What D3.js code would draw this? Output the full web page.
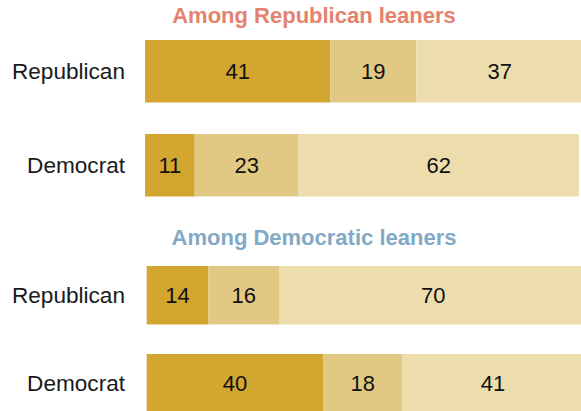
<!DOCTYPE html>
<html>
<head>
<meta charset="utf-8">
<script src="https://cdn.jsdelivr.net/npm/d3@7"></script>
<style>
  html, body { margin: 0; padding: 0; background: #fff; }
  svg { display: block; }
</style>
</head>
<body>
<svg id="chart" width="581" height="411"></svg>
<script>
// Response categories, left to right
const categories = ["first", "second", "third"];
const categoryColors = ["#D2A62F", "#E2C983", "#EDDDAD"];

// Party rows shown inside each group
const rows = ["Republican", "Democrat"];

// Group titles
const groupTitles = ["Among Republican leaners", "Among Democratic leaners"];
const titleColors = ["#E5826E", "#82A9C5"];

// Shares (%) for each row, by group
const republicanLeaners = [
  [41, 19, 37],   // Republican
  [11, 23, 62]    // Democrat
];
const democraticLeaners = [
  [14, 16, 70],   // Republican
  [40, 18, 41]    // Democrat
];

const svg = d3.select("#chart");
const font = "'Liberation Sans', Arial, sans-serif";

const panels = [
  { title: groupTitles[0], color: titleColors[0], data: republicanLeaners,
    titleY: 23, x0: 145, pxPerUnit: 4.52, y0: 40, step: 94, bar: 62.5 },
  { title: groupTitles[1], color: titleColors[1], data: democraticLeaners,
    titleY: 245, x0: 146.7, pxPerUnit: 4.41, y0: 266, step: 88, bar: 58.5 }
];

panels.forEach(p => {
  const x = d3.scaleLinear().domain([0, 100]).range([p.x0, p.x0 + 100 * p.pxPerUnit]);
  const y = d3.scaleBand()
    .domain(rows)
    .range([p.y0, p.y0 + p.step + p.bar])
    .paddingInner((p.step - p.bar) / p.step)
    .paddingOuter(0);

  const g = svg.append("g");

  g.append("text")
    .attr("x", 314)
    .attr("y", p.titleY)
    .attr("text-anchor", "middle")
    .attr("font-family", font)
    .attr("font-weight", "bold")
    .attr("font-size", 22)
    .attr("fill", p.color)
    .text(p.title);

  rows.forEach((row, ri) => {
    const vals = p.data[ri];
    let cum = 0;
    const segs = vals.map((v, i) => {
      const s = { v, i, start: cum, end: cum + v };
      cum += v;
      return s;
    });

    const rg = g.append("g");

    rg.append("text")
      .attr("x", 125)
      .attr("y", y(row) + y.bandwidth() / 2)
      .attr("dy", "0.36em")
      .attr("text-anchor", "end")
      .attr("font-family", font)
      .attr("font-size", 22.6)
      .attr("fill", "#1a1a1a")
      .text(row);

    rg.selectAll("rect")
      .data(segs)
      .join("rect")
      .attr("x", d => x(d.start))
      .attr("y", y(row))
      .attr("width", d => x(d.end) - x(d.start))
      .attr("height", y.bandwidth())
      .attr("fill", d => categoryColors[d.i]);

    rg.selectAll("text.value")
      .data(segs)
      .join("text")
      .attr("class", "value")
      .attr("x", d => (x(d.start) + x(d.end)) / 2)
      .attr("y", y(row) + y.bandwidth() / 2)
      .attr("dy", "0.36em")
      .attr("text-anchor", "middle")
      .attr("font-family", font)
      .attr("font-size", 22)
      .attr("fill", "#111")
      .text(d => d.v);
  });
});
</script>
</body>
</html>
